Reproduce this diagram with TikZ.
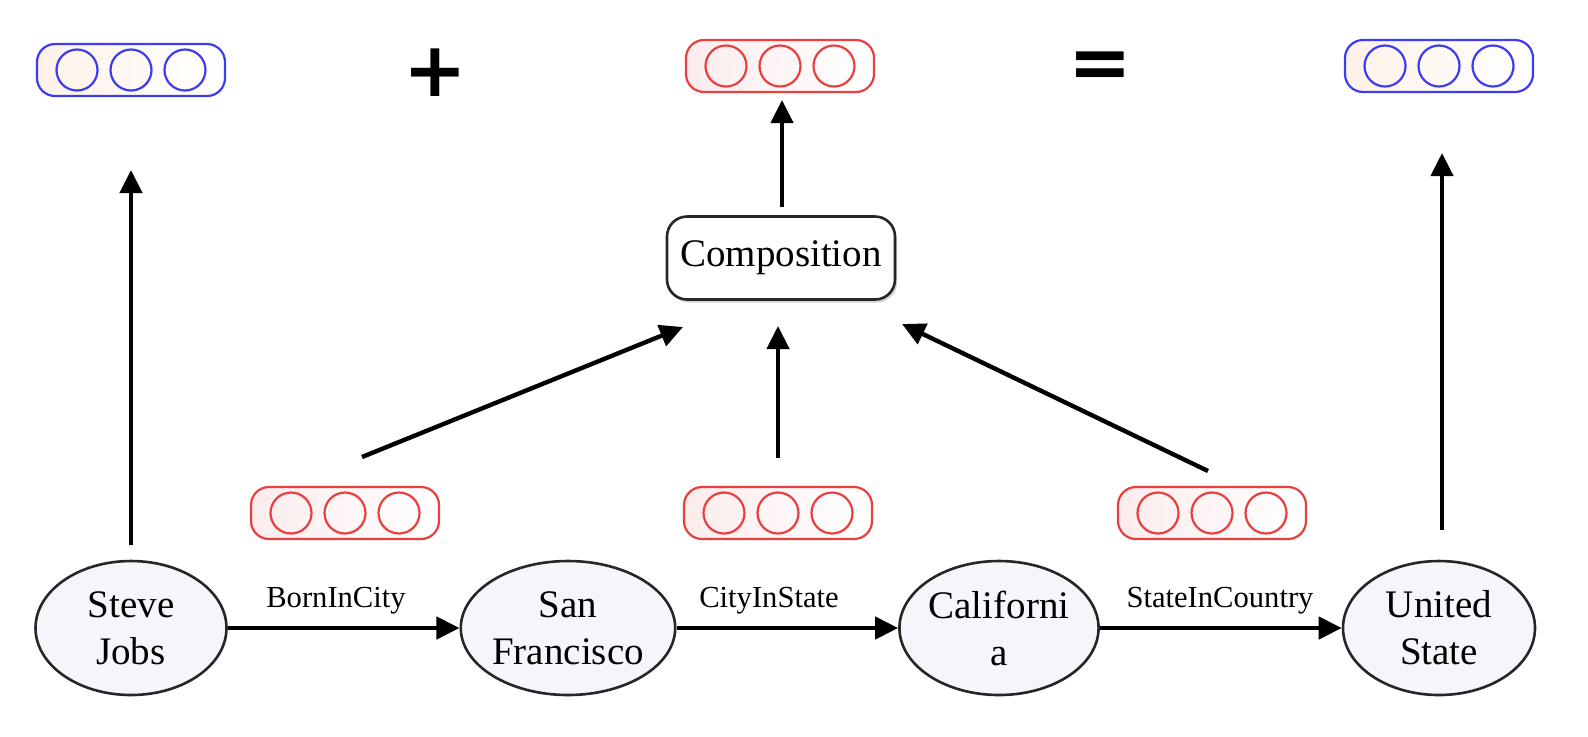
\documentclass[tikz,border=0pt]{standalone}
\usepackage{fontspec}
\setmainfont{Liberation Serif}
\newfontfamily\symfont{DejaVu Sans}
\usetikzlibrary{arrows.meta,shapes.geometric,shadows}
\definecolor{vred}{RGB}{232,64,64}
\definecolor{vblue}{RGB}{60,60,240}
\definecolor{efill}{RGB}{244,246,252}
\definecolor{redtint}{RGB}{252,236,236}
\definecolor{peachtint}{RGB}{253,242,232}
\tikzset{
 entity/.style={ellipse, draw=black!85, line width=1.3pt, fill=efill, minimum height=67pt, inner sep=0pt, align=center, font=\fontsize{19.5}{23.5}\selectfont},
 rel/.style={font=\fontsize{15.3}{18}\selectfont, inner sep=0pt, anchor=base},
 arr/.style={line width=2.2pt, -{Triangle[length=11.5pt,width=11pt]}},
 vecbox/.style={rounded corners=9pt, line width=1.1pt, minimum width=94pt, minimum height=26pt, inner sep=0pt},
 cell/.style={circle, line width=1.1pt, minimum size=20.5pt, inner sep=0pt},
 compbox/.style={draw=black!85, line width=1.3pt, rounded corners=10pt, minimum width=114pt, minimum height=41.5pt, fill=white, drop shadow={shadow xshift=1pt, shadow yshift=-1.5pt, opacity=0.35}, font=\fontsize{19.5}{23}\selectfont},
 op/.style={font=\symfont\bfseries\fontsize{38}{40}\selectfont, inner sep=0pt}
}
\newcommand{\embvec}[5]{%
 \node[vecbox, draw=#4, left color=#5, right color=white] (#1) at (#2,#3) {};
 \foreach \k/\d in {a/-54,b/0,c/54} \node[cell, draw=#4] (#1\k) at (#2+\d,#3) {};
}
\begin{document}
\begin{tikzpicture}[x=0.5pt,y=-0.5pt]
\useasboundingbox (0,0) rectangle (1588,736);
% embedding vectors
\embvec{vsj}{131}{70}{vblue}{peachtint}
\embvec{vcomp}{780}{66}{vred}{redtint}
\embvec{vus}{1439}{66}{vblue}{peachtint}
\embvec{rone}{345}{513}{vred}{redtint}
\embvec{rtwo}{778}{513}{vred}{redtint}
\embvec{rthree}{1212}{513}{vred}{redtint}
% operators
\node[op] (plus) at (435,73) {+};
\node[op] (eq) at (1100,70) {=};
% composition
\node[compbox] (comp) at (781,258) {Composition};
% entities
\node[entity, minimum width=95.5pt] (sj) at (131,628) {Steve\\Jobs};
\node[entity, minimum width=100pt] (sf) at (568,628) {San\\Francisco};
\node[entity, minimum width=99pt] (ca) at (999,628) {Californi\\a};
\node[entity, minimum width=96pt] (us) at (1439,628) {United\\State};
% relation labels
\node[rel] (l1) at (336,607) {BornInCity};
\node[rel] (l2) at (769,607) {CityInState};
\node[rel] (l3) at (1220,607) {StateInCountry};
% arrow end points
\coordinate (sjs) at (131,545); \coordinate (sjt) at (131,170);
\coordinate (uss) at (1442,530); \coordinate (ust) at (1442,153);
\coordinate (cus) at (782,207); \coordinate (cut) at (782,100);
\coordinate (ms) at (778,458); \coordinate (mt) at (778,326);
\coordinate (ls) at (362,457); \coordinate (lt) at (683,327);
\coordinate (rs) at (1208,471); \coordinate (rt) at (902,324);
% connectors
\draw[arr] (sj) -- (sf);
\draw[arr] (sf) -- (ca);
\draw[arr] (ca) -- (us);
\draw[arr] (sjs) -- (sjt);
\draw[arr] (uss) -- (ust);
\draw[arr] (cus) -- (cut);
\draw[arr] (ms) -- (mt);
\draw[arr] (ls) -- (lt);
\draw[arr] (rs) -- (rt);
\end{tikzpicture}
\end{document}
